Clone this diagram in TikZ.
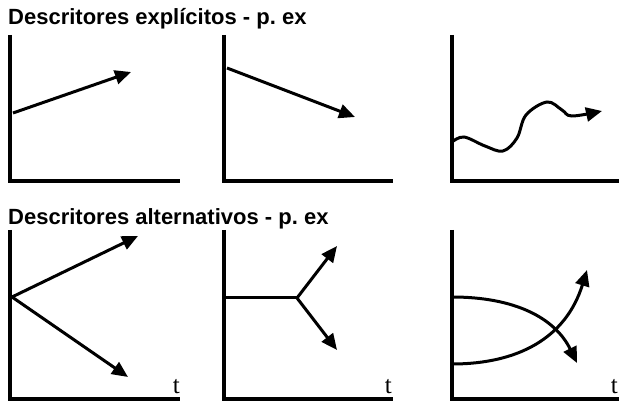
\documentclass[tikz,border=0pt]{standalone}
\usepackage{fontspec}
\setmainfont{Liberation Serif}
\newfontfamily\titlefont{Liberation Sans}
\usetikzlibrary{arrows.meta}

\begin{document}
\begin{tikzpicture}[x=1pt,y=-1pt,
  axis/.style={line width=3.3pt},
  curve/.style={line width=3pt, -{Triangle[length=16pt,width=14pt]}},
  heading/.style={font=\titlefont\bfseries\fontsize{22}{26}\selectfont,
    anchor=base west, inner sep=0pt},
  tlabel/.style={font=\fontsize{25}{28}\selectfont, anchor=base east, inner sep=0pt}]
  \useasboundingbox (0,0) rectangle (619,403);
  % Headings
  \node[heading] (explicit) at (8,25) {Descritores explícitos - p.\ ex};
  \node[heading] (alternative) at (8,225) {Descritores alternativos - p.\ ex};
  % Axes of the six panels
  \foreach \x/\xr in {10/180, 224/393, 452/619} {
    \draw[axis] (\x,35) -- (\x,181) -- (\xr,181);
    \draw[axis] (\x,230) -- (\x,399) -- (\xr,399);
  }
  % Time labels
  \node[tlabel] (tA) at (180,394) {t};
  \node[tlabel] (tB) at (392,394) {t};
  \node[tlabel] (tC) at (618,394) {t};
  % Explicit: rising, falling, wave
  \coordinate (riseS) at (13,113);
  \coordinate (riseE) at (131,72);
  \draw[curve] (riseS) -- (riseE);
  \coordinate (fallS) at (227,68);
  \coordinate (fallE) at (355,117);
  \draw[curve] (fallS) -- (fallE);
  \draw[curve] plot[smooth, tension=0.6] coordinates
    {(452,142) (464,137) (485,146) (503,151) (517,138) (526,115) (547,102)
     (562,110) (572,116) (602,111)};
  % Alternative: fan from the origin
  \coordinate (fanO) at (12,297);
  \coordinate (fanUp) at (138,236);
  \coordinate (fanDn) at (128,377);
  \draw[curve] (fanO) -- (fanUp);
  \draw[curve] (fanO) -- (fanDn);
  % Alternative: split at a point
  \coordinate (splitS) at (224,298);
  \coordinate (splitP) at (297,298);
  \coordinate (splitUp) at (337,246);
  \coordinate (splitDn) at (337,350);
  \draw[line width=3pt] (splitS) -- (splitP);
  \draw[curve] (splitP) -- (splitUp);
  \draw[curve] (splitP) -- (splitDn);
  % Alternative: crossing curves
  \coordinate (crossA) at (452,297);
  \coordinate (crossAE) at (577,363);
  \coordinate (crossB) at (452,364);
  \coordinate (crossBE) at (587,270);
  \draw[curve] (crossA) .. controls (515,297) and (555,318) .. (crossAE);
  \draw[curve] (crossB) .. controls (518,364) and (566,338) .. (crossBE);
\end{tikzpicture}
\end{document}
